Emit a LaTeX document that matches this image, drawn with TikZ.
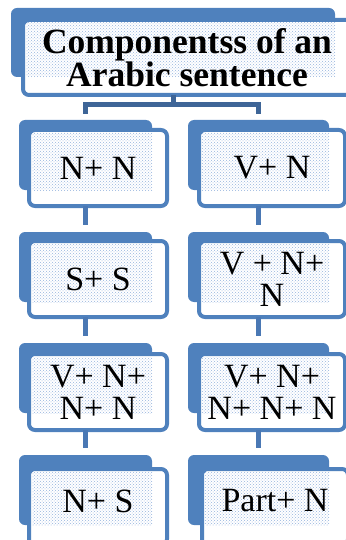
\documentclass[tikz,border=0pt]{standalone}
\usepackage{fontspec}
\setmainfont{Liberation Serif}
\usetikzlibrary{patterns, positioning}

\definecolor{boxblue}{RGB}{79,129,189}
\definecolor{linkblue}{RGB}{74,120,180}
\definecolor{barblue}{RGB}{62,101,151}
\definecolor{dotblue}{RGB}{150,180,222}

\begin{document}
\begin{tikzpicture}[
    x=1pt, y=-1pt,
    font=\fontsize{34}{32}\selectfont,
    back/.style={rectangle, fill=boxblue, rounded corners=6pt, outer sep=0pt, minimum width=133pt, minimum height=70pt, anchor=north west},
    front/.style={rectangle, draw=boxblue, fill=white, line width=4pt, rounded corners=6pt, outer sep=0pt, minimum width=138pt, minimum height=76pt, anchor=north west},
    wide/.style={minimum width=141pt},
    widefront/.style={minimum width=146pt},
    label/.style={align=center, inner sep=0pt},
    dotted fill/.style={pattern=crosshatch dots, pattern color=dotblue},
    link/.style={draw=linkblue, line width=5pt},
    bar/.style={draw=barblue, line width=5pt}
]
\useasboundingbox (0,0) rectangle (345,540);

% heading
\node[back, minimum width=324pt, minimum height=69pt] (tb) at (11,8) {};
\node[front, minimum width=330pt, minimum height=75pt] (tf) at ([shift={(12,12)}]tb.north west) {};
\fill[dotted fill] ([shift={(3,3)}]tf.north west) rectangle (tb.south east);
\node[label, font=\fontsize{35.5}{32}\selectfont\bfseries] (title) at ([xshift=-1pt]tf.center) {Componentss of an\\Arabic sentence};

% left column
\node[back] (nn) at (19,120) {};
\node[front] (nnf) at ([shift={(10,10)}]nn.north west) {};
\node[back] (ss) at (19,232) {};
\node[front] (ssf) at ([shift={(10,9)}]ss.north west) {};
\node[back] (vnnn) at (19,343) {};
\node[front] (vnnnf) at ([shift={(10,11)}]vnnn.north west) {};
\node[back] (ns) at (19,455) {};
\node[front] (nsf) at ([shift={(10,14)}]ns.north west) {};

% right column
\node[back, wide] (vn) at (188,120) {};
\node[front, widefront] (vnf) at ([shift={(11,10)}]vn.north west) {};
\node[back, wide] (vnn) at (188,232) {};
\node[front, widefront] (vnnf) at ([shift={(11,9)}]vnn.north west) {};
\node[back, wide] (vnnnn) at (188,343) {};
\node[front, widefront] (vnnnnf) at ([shift={(11,11)}]vnnnn.north west) {};
\node[back, wide] (pn) at (188,455) {};
\node[front, widefront] (pnf) at ([shift={(14,14)}]pn.north west) {};

% dotted inner areas
\foreach \b in {nn,ss,vnnn,ns,vn,vnn,vnnnn,pn}
  \fill[dotted fill] ([shift={(3,3)}]\b f.north west) rectangle (\b.south east);

% labels
\node[label] at (nnf.center) {N+ N};
\node[label] at (ssf.center) {S+ S};
\node[label] at (vnnnf.center) {V+ N+\\N+ N};
\node[label] at ([yshift=6pt]nsf.center) {N+ S};
\node[label] at (vnf.center) {V+ N};
\node[label] at (vnnf.center) {V + N+\\N};
\node[label] at (vnnnnf.center) {V+ N+\\N+ N+ N};
\node[label] at ([yshift=6pt]pnf.center) {Part+ N};

% connectors
\draw[bar] (tb.center |- tf.south) -- ++(0,10) coordinate (split);
\draw[bar, shorten >=6pt] (split) -| (nn.north);
\draw[bar, shorten >=6pt] (split) -| (vn.north);
\draw[link, shorten >=7pt] (nn.center |- nnf.south) -- (ss.north);
\draw[link, shorten >=7pt] (ss.center |- ssf.south) -- (vnnn.north);
\draw[link, shorten >=7pt] (vnnn.center |- vnnnf.south) -- (ns.north);
\draw[link, shorten >=7pt] (vn.center |- vnf.south) -- (vnn.north);
\draw[link, shorten >=7pt] (vnn.center |- vnnf.south) -- (vnnnn.north);
\draw[link, shorten >=7pt] (vnnnn.center |- vnnnnf.south) -- (pn.north);
\end{tikzpicture}
\end{document}
